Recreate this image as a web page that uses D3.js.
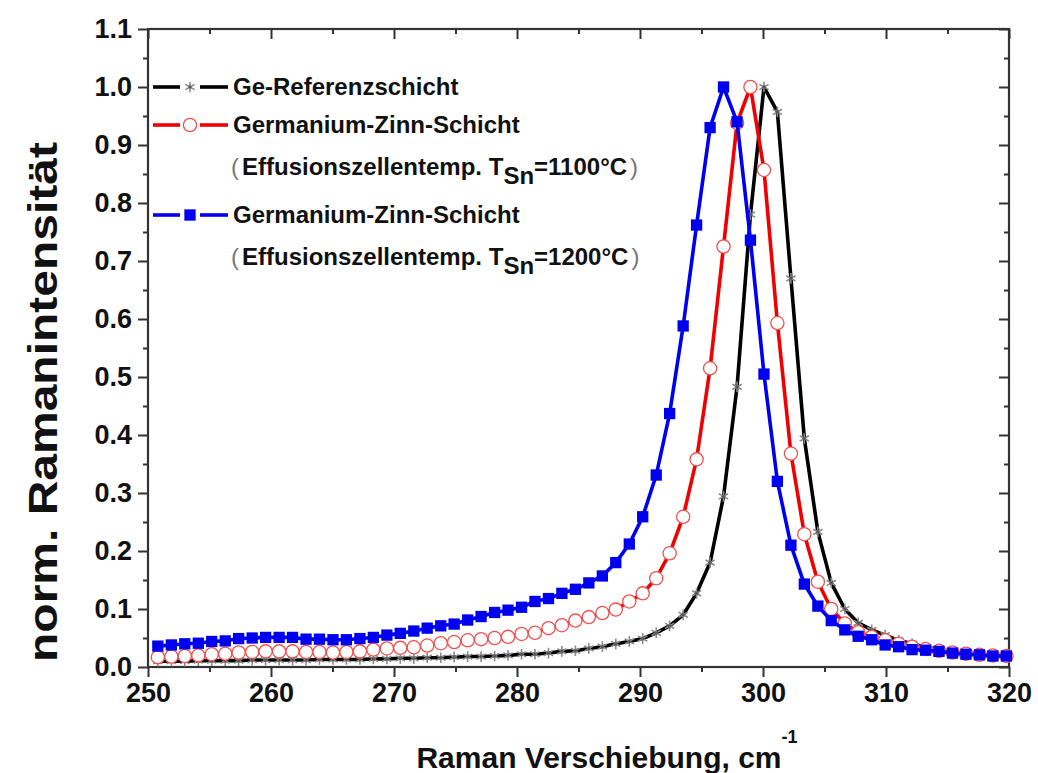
<!DOCTYPE html>
<html>
<head>
<meta charset="utf-8">
<script src="https://cdn.jsdelivr.net/npm/d3@7"></script>
<style>
  html, body { margin: 0; padding: 0; background: #fff; }
  svg { display: block; }
  text { font-family: "Liberation Sans", Arial, sans-serif; font-weight: bold; fill: #111; }
</style>
</head>
<body>
<svg id="chart" width="1038" height="773"></svg>
<script>
// Raman shift (cm^-1) of each measured point
const shift = [
  250.80, 251.90, 252.99, 254.09, 255.18, 256.28, 257.37, 258.47, 259.56, 260.66,
  261.75, 262.85, 263.94, 265.04, 266.13, 267.23, 268.32, 269.42, 270.51, 271.61,
  272.70, 273.80, 274.89, 275.99, 277.08, 278.18, 279.27, 280.37, 281.46, 282.56,
  283.65, 284.75, 285.84, 286.94, 288.03, 289.13, 290.22, 291.32, 292.41, 293.51,
  294.60, 295.70, 296.79, 297.89, 298.98, 300.08, 301.17, 302.27, 303.36, 304.46,
  305.55, 306.65, 307.74, 308.84, 309.93, 311.03, 312.12, 313.22, 314.31, 315.41,
  316.50, 317.60, 318.69, 319.79
];

// Ge reference layer, normalised intensity
const geRef = [
  0.010, 0.010, 0.010, 0.011, 0.011, 0.011, 0.011, 0.012, 0.012, 0.012,
  0.012, 0.012, 0.013, 0.013, 0.013, 0.013, 0.014, 0.014, 0.015, 0.015,
  0.016, 0.016, 0.017, 0.018, 0.018, 0.019, 0.020, 0.022, 0.022, 0.024,
  0.027, 0.028, 0.032, 0.035, 0.040, 0.044, 0.049, 0.059, 0.071, 0.090,
  0.127, 0.180, 0.294, 0.483, 0.780, 1.000, 0.957, 0.670, 0.394, 0.233,
  0.145, 0.100, 0.076, 0.064, 0.055, 0.046, 0.040, 0.034, 0.030, 0.026,
  0.023, 0.021, 0.020, 0.019
];

// GeSn layer, effusion cell at 1100 °C
const geSn1100 = [
  0.017, 0.018, 0.019, 0.020, 0.022, 0.023, 0.025, 0.026, 0.027, 0.027,
  0.027, 0.026, 0.026, 0.025, 0.026, 0.027, 0.030, 0.032, 0.033, 0.034,
  0.037, 0.041, 0.043, 0.046, 0.048, 0.050, 0.052, 0.057, 0.059, 0.067,
  0.072, 0.080, 0.086, 0.093, 0.099, 0.113, 0.127, 0.153, 0.196, 0.259,
  0.358, 0.515, 0.725, 0.938, 1.000, 0.857, 0.593, 0.368, 0.229, 0.147,
  0.100, 0.075, 0.060, 0.052, 0.046, 0.040, 0.035, 0.031, 0.028, 0.025,
  0.023, 0.021, 0.020, 0.019
];

// GeSn layer, effusion cell at 1200 °C
const geSn1200 = [
  0.036, 0.038, 0.040, 0.041, 0.044, 0.045, 0.049, 0.050, 0.051, 0.051,
  0.051, 0.048, 0.048, 0.047, 0.047, 0.049, 0.051, 0.055, 0.058, 0.062,
  0.067, 0.071, 0.074, 0.081, 0.087, 0.094, 0.098, 0.103, 0.113, 0.118,
  0.127, 0.134, 0.145, 0.157, 0.180, 0.212, 0.259, 0.331, 0.437, 0.588,
  0.762, 0.930, 1.000, 0.940, 0.736, 0.505, 0.320, 0.210, 0.143, 0.105,
  0.080, 0.064, 0.053, 0.047, 0.038, 0.035, 0.030, 0.029, 0.027, 0.024,
  0.022, 0.021, 0.019, 0.019
];

const xMajor = [250, 260, 270, 280, 290, 300, 310, 320];
const xMinor = [255, 265, 275, 285, 295, 305, 315];
const yMajor = [0.0, 0.1, 0.2, 0.3, 0.4, 0.5, 0.6, 0.7, 0.8, 0.9, 1.0, 1.1];
const yMinor = [0.05, 0.15, 0.25, 0.35, 0.45, 0.55, 0.65, 0.75, 0.85, 0.95, 1.05];

const legendNames = ["Ge-Referenzschicht", "Germanium-Zinn-Schicht", "Germanium-Zinn-Schicht"];
const legendNotes = ["", "1100°C", "1200°C"];

const svg = d3.select("#chart");
const m = { left: 148, right: 1009, top: 29, bottom: 667 };

const x = d3.scaleLinear().domain([250, 320]).range([m.left, m.right]);
const y = d3.scaleLinear().domain([0, 1.1]).range([m.bottom, m.top]);

const axisColor = "#333";
const majorLen = 10, minorLen = 5;

function styleAxis(g) {
  g.select(".domain").remove();
  g.selectAll(".tick line").attr("stroke", axisColor).attr("stroke-width", 2);
}

// frame
svg.append("rect")
  .attr("x", m.left).attr("y", m.top)
  .attr("width", m.right - m.left).attr("height", m.bottom - m.top)
  .attr("fill", "none").attr("stroke", axisColor).attr("stroke-width", 2.2);

// bottom axis
svg.append("g").attr("transform", `translate(0,${m.bottom})`)
  .call(d3.axisBottom(x).tickValues(xMajor).tickSize(majorLen).tickPadding(6).tickFormat(d3.format("d")))
  .call(styleAxis)
  .call(g => g.selectAll("text").style("font-size", "27px").attr("fill", "#111"));
svg.append("g").attr("transform", `translate(0,${m.bottom})`)
  .call(d3.axisBottom(x).tickValues(xMinor).tickSize(minorLen).tickFormat(""))
  .call(styleAxis);

// top axis (ticks inward)
svg.append("g").attr("transform", `translate(0,${m.top})`)
  .call(d3.axisTop(x).tickValues(xMajor).tickSize(-majorLen).tickFormat(""))
  .call(styleAxis);
svg.append("g").attr("transform", `translate(0,${m.top})`)
  .call(d3.axisTop(x).tickValues(xMinor).tickSize(-minorLen).tickFormat(""))
  .call(styleAxis);

// left axis
svg.append("g").attr("transform", `translate(${m.left},0)`)
  .call(d3.axisLeft(y).tickValues(yMajor).tickSize(majorLen).tickPadding(6).tickFormat(d3.format(".1f")))
  .call(styleAxis)
  .call(g => g.selectAll("text").style("font-size", "27px").attr("fill", "#111"));
svg.append("g").attr("transform", `translate(${m.left},0)`)
  .call(d3.axisLeft(y).tickValues(yMinor).tickSize(minorLen).tickFormat(""))
  .call(styleAxis);

// right axis (ticks inward)
svg.append("g").attr("transform", `translate(${m.right},0)`)
  .call(d3.axisRight(y).tickValues(yMajor).tickSize(-majorLen).tickFormat(""))
  .call(styleAxis);
svg.append("g").attr("transform", `translate(${m.right},0)`)
  .call(d3.axisRight(y).tickValues(yMinor).tickSize(-minorLen).tickFormat(""))
  .call(styleAxis);

// axis titles
const xt = svg.append("text")
  .attr("x", 607).attr("y", 768)
  .attr("text-anchor", "middle")
  .style("font-size", "30px");
xt.append("tspan").text("Raman Verschiebung, cm");
xt.append("tspan").attr("dy", -25).style("font-size", "18px").text("-1");

svg.append("text")
  .attr("transform", "translate(57,402) rotate(-90)")
  .attr("text-anchor", "middle")
  .attr("textLength", 520)
  .attr("lengthAdjust", "spacingAndGlyphs")
  .style("font-size", "40px")
  .text("norm. Ramanintensität");

// series
const series = [
  { values: geRef, color: "#000", marker: "star" },
  { values: geSn1100, color: "#f00000", marker: "circle" },
  { values: geSn1200, color: "#0000f0", marker: "square" }
];

const line = d3.line().x(d => x(d[0])).y(d => y(d[1]));
const starPath = d3.symbol().type(d3.symbolAsterisk).size(80)();
const squarePath = d3.symbol().type(d3.symbolSquare).size(128)();

function drawMarker(g, kind, color) {
  if (kind === "star") {
    g.append("path").attr("d", starPath).attr("fill", "none")
      .attr("stroke", "#8a8a8a").attr("stroke-width", 1.6);
    g.append("circle").attr("r", 1.6).attr("fill", "#555");
  } else if (kind === "circle") {
    g.append("circle").attr("r", 6.6).attr("fill", "#fff")
      .attr("stroke", "#f05050").attr("stroke-width", 1.3);
  } else {
    g.append("path").attr("d", squarePath).attr("fill", color);
  }
}

series.forEach(s => {
  const pts = shift.map((v, i) => [v, s.values[i]]);
  const g = svg.append("g");
  g.append("path").datum(pts).attr("d", line)
    .attr("fill", "none").attr("stroke", s.color).attr("stroke-width", 3.6)
    .attr("stroke-linejoin", "round");
  g.selectAll("g.pt").data(pts).join("g").attr("class", "pt")
    .attr("transform", d => `translate(${x(d[0])},${y(d[1])})`)
    .each(function () { drawMarker(d3.select(this), s.marker, s.color); });
});

// legend
const legendRows = [87, 125, 215];
const noteRows = [null, 167, 257];
series.forEach((s, i) => {
  const ly = legendRows[i];
  const g = svg.append("g");
  g.append("line").attr("x1", 153).attr("x2", 180).attr("y1", ly).attr("y2", ly)
    .attr("stroke", s.color).attr("stroke-width", 3.6);
  g.append("line").attr("x1", 200).attr("x2", 228).attr("y1", ly).attr("y2", ly)
    .attr("stroke", s.color).attr("stroke-width", 3.6);
  const mg = g.append("g").attr("transform", `translate(190,${ly})`);
  drawMarker(mg, s.marker, s.color);
  g.append("text").attr("x", 233).attr("y", ly).attr("dy", "0.35em")
    .style("font-size", "24px").text(legendNames[i]);
  if (noteRows[i] !== null) {
    const t = g.append("text").attr("x", 231).attr("y", noteRows[i]).attr("dy", "0.35em")
      .style("font-size", "24px");
    t.append("tspan").style("font-weight", "normal").attr("fill", "#777").text("(");
    t.append("tspan").attr("dx", 3).text("Effusionszellentemp. T");
    t.append("tspan").attr("dy", 9).text("Sn");
    t.append("tspan").attr("dy", -9).text("=" + legendNotes[i]);
    t.append("tspan").attr("dx", 3).style("font-weight", "normal").attr("fill", "#777").text(")");
  }
});
</script>
</body>
</html>
